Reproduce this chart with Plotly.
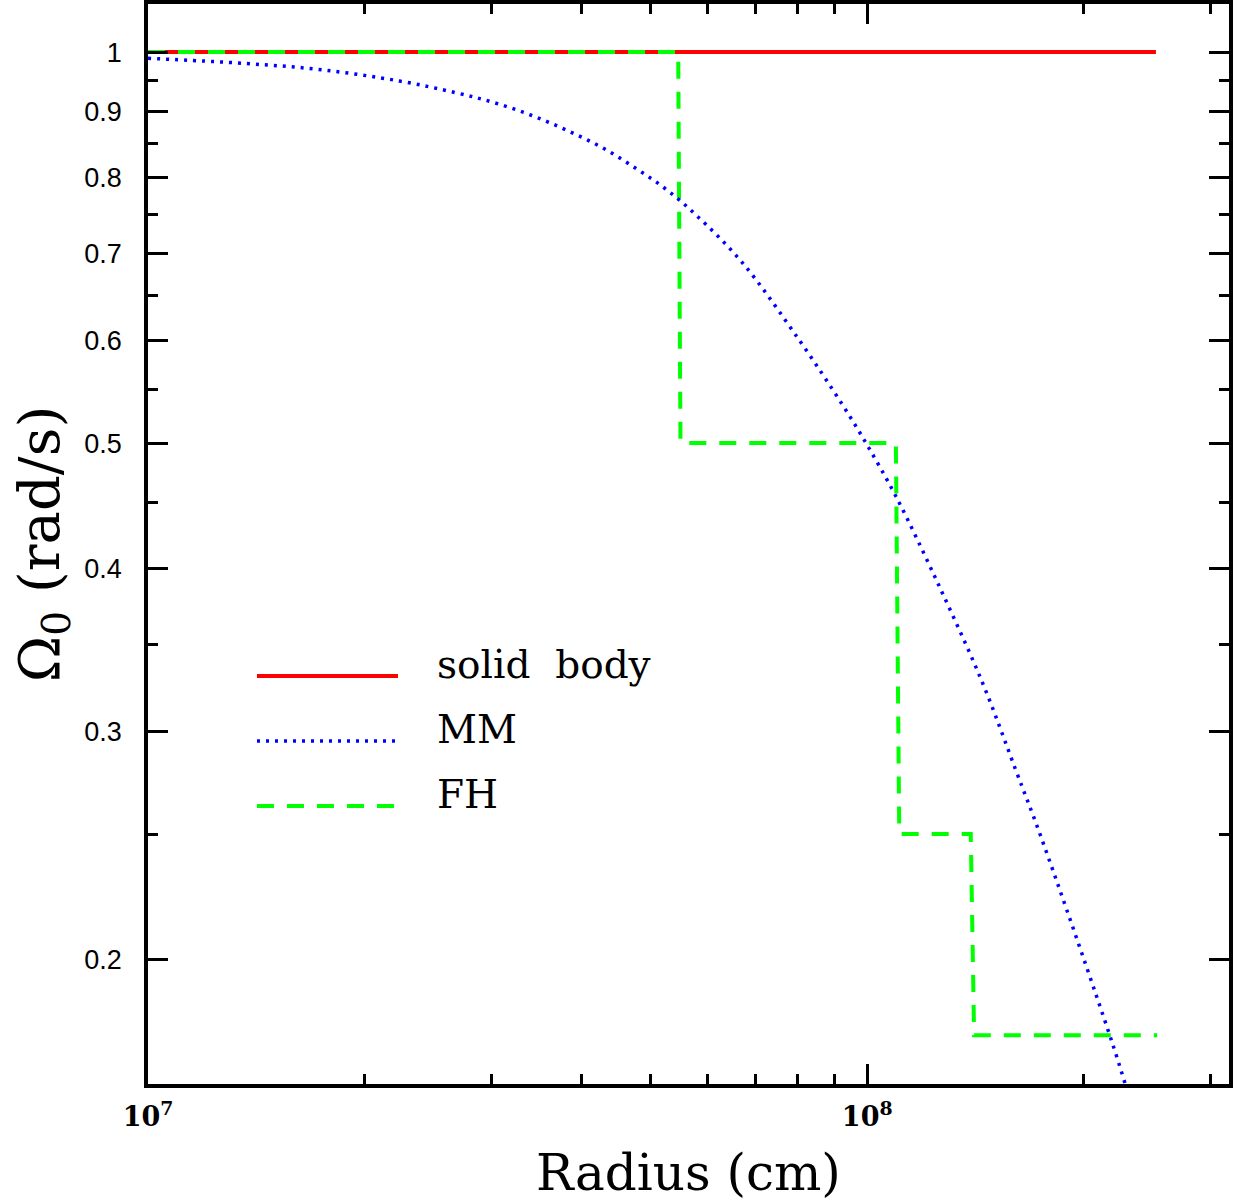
import plotly.graph_objects as go

# ---- data ----
radius_solid = [1.0e7, 2.52e8]
omega_solid = [1.0, 1.0]

radius_mm = [1.0e7, 1.365e7, 1.747e7, 2.236e7, 2.689e7, 3.034e7, 3.411e7, 3.815e7,
             4.267e7, 4.747e7, 5.253e7, 5.782e7, 6.711e7, 8.045e7, 9.24e7, 9.96e7,
             1.096e8, 1.259e8, 1.446e8, 1.609e8, 1.743e8, 2.181e8, 2.288e8]
omega_mm = [0.989, 0.980, 0.969, 0.950, 0.930, 0.914, 0.894, 0.871,
            0.845, 0.815, 0.784, 0.749, 0.688, 0.600, 0.535, 0.500,
            0.455, 0.388, 0.327, 0.280, 0.249, 0.174, 0.160]

radius_fh = [1.0e7, 5.46e7, 5.50e7, 1.096e8, 1.108e8, 1.393e8, 1.408e8, 2.53e8]
omega_fh = [1.0, 1.0, 0.5, 0.5, 0.25, 0.25, 0.175, 0.175]

legend_names = ["solid body", "MM", "FH"]
x_major = [1e7, 1e8]
x_major_text = ["10<sup>7</sup>", "10<sup>8</sup>"]
x_minor = [2e7, 3e7, 4e7, 5e7, 6e7, 7e7, 8e7, 9e7, 2e8, 3e8]
y_major = [0.2, 0.3, 0.4, 0.5, 0.6, 0.7, 0.8, 0.9, 1.0]
y_major_text = ["0.2", "0.3", "0.4", "0.5", "0.6", "0.7", "0.8", "0.9", "1"]
y_minor = [0.25, 0.35, 0.45, 0.55, 0.65, 0.75, 0.85, 0.95]

RED, BLUE, GREEN = "#ff0000", "#0000ff", "#00ff00"
SERIF = "DejaVu Serif"

fig = go.Figure()
fig.add_trace(go.Scatter(x=radius_solid, y=omega_solid, mode="lines",
                         line=dict(color=RED, width=4), name=legend_names[0],
                         showlegend=False))
fig.add_trace(go.Scatter(x=radius_fh, y=omega_fh, mode="lines",
                         line=dict(color=GREEN, width=4, dash="17px,13px"),
                         name=legend_names[2], showlegend=False))
fig.add_trace(go.Scatter(x=radius_mm, y=omega_mm, mode="lines",
                         line=dict(color=BLUE, width=3.5, dash="3px,6px",
                                   shape="spline", smoothing=1.0),
                         name=legend_names[1], showlegend=False))

# ---- manual legend (paper coordinates) ----
L, R, T, B = 148, 1229, 4, 1084
W, H = R - L, B - T
def px(x):
    return (x - L) / W
def py(y):
    return 1 - (y - T) / H

leg = [(legend_names[0], RED, "solid", 4, 676),
       (legend_names[1], BLUE, "3px,6px", 3.5, 741),
       (legend_names[2], GREEN, "17px,13px", 4, 806)]
for name, col, dash, w, yy in leg:
    fig.add_shape(type="line", xref="paper", yref="paper",
                  x0=px(257), x1=px(398), y0=py(yy), y1=py(yy),
                  line=dict(color=col, width=w, dash=dash))
    fig.add_annotation(xref="paper", yref="paper", x=px(435), y=py(yy - 12),
                       xanchor="left", yanchor="middle", showarrow=False,
                       text=name.replace(" ", "&nbsp;&nbsp;"),
                       font=dict(family=SERIF, size=39, color="black"))

axis_common = dict(showline=True, linecolor="black", linewidth=3.5, mirror="allticks",
                   ticks="inside", tickcolor="black", tickwidth=2.5, ticklen=20,
                   showgrid=False, zeroline=False, automargin=False)

fig.update_xaxes(type="log", range=[7, 8.503], tickvals=x_major, ticktext=x_major_text,
                 tickfont=dict(family=SERIF, size=27, color="black", weight="bold"),
                 ticklabelstandoff=6,
                 minor=dict(tickvals=x_minor, ticks="inside", ticklen=10, tickwidth=2.5,
                            tickcolor="black", showgrid=False),
                 title=dict(text="Radius (cm)", font=dict(family=SERIF, size=50, color="black"),
                            standoff=25),
                 **axis_common)
fig.update_yaxes(type="log", range=[-0.7945, 0.0370], tickvals=y_major, ticktext=y_major_text,
                 tickfont=dict(family="Liberation Sans", size=27, color="black"),
                 ticklabelstandoff=17,
                 minor=dict(tickvals=y_minor, ticks="inside", ticklen=10, tickwidth=2.5,
                            tickcolor="black", showgrid=False),
                 title=dict(text="Ω<sub>0</sub> (rad/s)",
                            font=dict(family=SERIF, size=56, color="black"),
                            standoff=8),
                 **axis_common)

fig.update_layout(width=1233, height=1203, plot_bgcolor="white", paper_bgcolor="white",
                  margin=dict(l=L, r=1233 - R, t=T, b=1203 - B),
                  showlegend=False)

fig.write_html("out.html")
